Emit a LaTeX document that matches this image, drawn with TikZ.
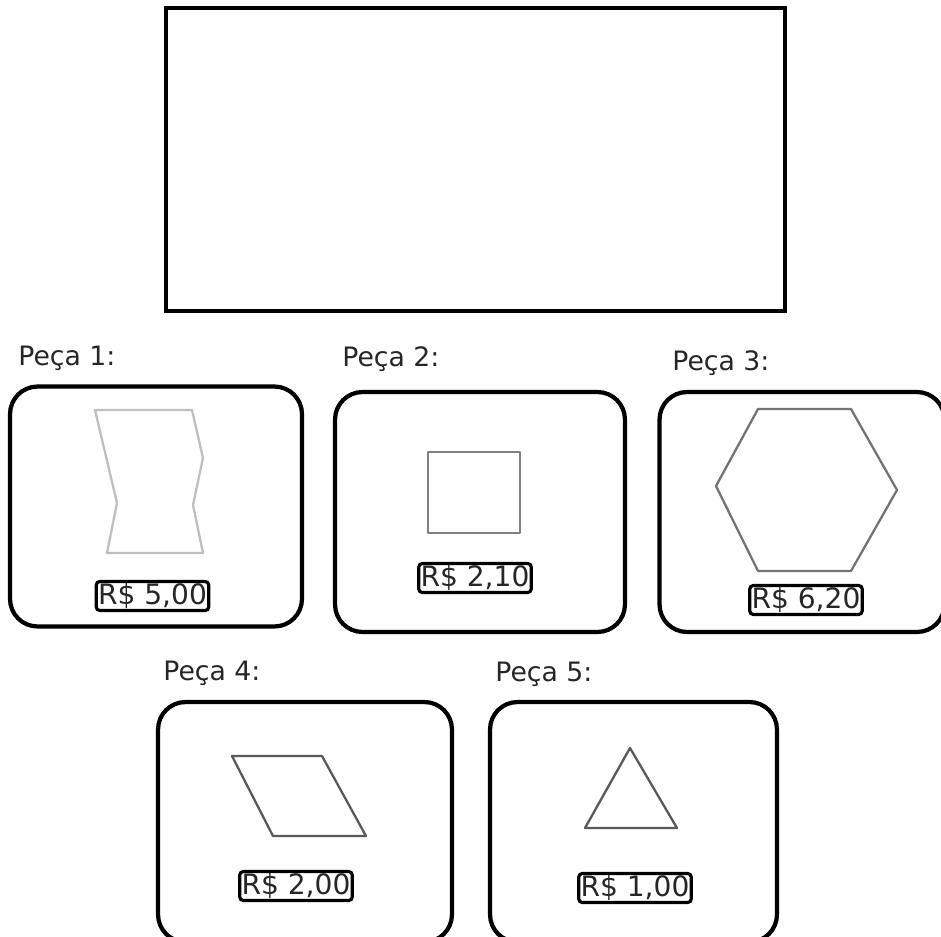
\documentclass[tikz,border=0pt]{standalone}
\usepackage{fontspec}
\setmainfont{DejaVu Sans}
\usepackage{tikz}
\usetikzlibrary{positioning}
\begin{document}
\begin{tikzpicture}[x=0.02cm,y=-0.02cm,
 peca/.style={draw,line width=2.4pt,rounded corners=0.55cm,minimum height=4.8cm},
 tit/.style={anchor=west,inner sep=0pt,text=black!85,font=\fontsize{15.2}{18}\selectfont},
 preco/.style={draw,line width=1.8pt,rounded corners=2pt,inner sep=1pt,text=black!85,font=\fontsize{16}{19}\selectfont},
 fig/.style={line width=1.3pt,line join=round}]
\useasboundingbox (0,0) rectangle (941,937);
\clip (0,0) rectangle (941,937);
\node[draw,line width=2.5pt,minimum width=12.38cm,minimum height=6.06cm] (tab) at (475.5,159.5) {};
\node[tit] (t1) at (18,358) {Peça 1:};
\node[tit] (t2) at (342,359) {Peça 2:};
\node[tit] (t3) at (672,363) {Peça 3:};
\node[tit] (t4) at (163,673) {Peça 4:};
\node[tit] (t5) at (495,674) {Peça 5:};
\node[peca,minimum width=5.84cm] (p1) at (156,506.5) {};
\node[peca,minimum width=5.8cm] (p2) at (480,512) {};
\node[peca,minimum width=5.7cm] (p3) at (802,512) {};
\node[peca,minimum width=5.88cm] (p4) at (305,822) {};
\node[peca,minimum width=5.74cm] (p5) at (633.5,822) {};
\draw[fig,black!25] (95,410) -- (192,410) -- (203,458) -- (193,505) -- (203,553) -- (107,553) -- (117,503) -- cycle;
\draw[fig,black!50] (428,452) rectangle (520,533);
\draw[fig,black!55] (758,409) -- (851,409) -- (897,490) -- (851,571) -- (758,571) -- (716,486) -- cycle;
\draw[fig,black!65] (232,756) -- (322,756) -- (366,836) -- (273,836) -- cycle;
\draw[fig,black!65] (630,748) -- (677,828) -- (585,828) -- cycle;
\node[preco] (r1) at (152.5,596) {R\$ 5,00};
\node[preco] (r2) at (475,578) {R\$ 2,10};
\node[preco] (r3) at (806,600) {R\$ 6,20};
\node[preco] (r4) at (296,886) {R\$ 2,00};
\node[preco] (r5) at (635,888) {R\$ 1,00};
\end{tikzpicture}
\end{document}
